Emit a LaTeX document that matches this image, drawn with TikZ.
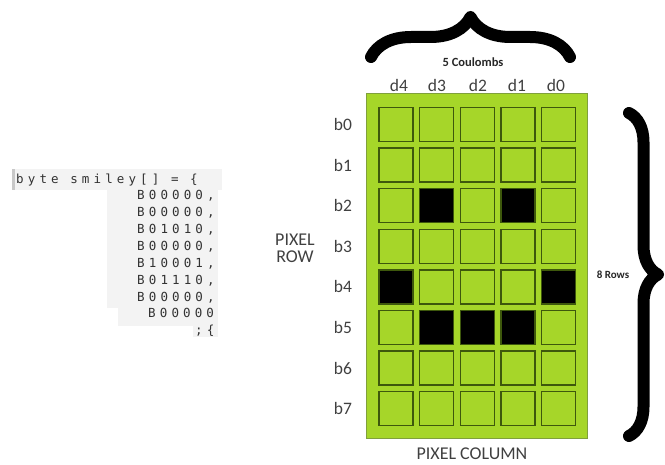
\documentclass[tikz,border=0pt]{standalone}
\usepackage{fontspec}
\setmainfont{Carlito}
\newfontfamily\codefont[LetterSpace=33]{DejaVu Sans Mono}
\usetikzlibrary{decorations.pathreplacing}
\definecolor{lcdgreen}{RGB}{166,214,41}
\definecolor{celledge}{RGB}{62,88,12}
\definecolor{boardedge}{RGB}{128,160,60}
\definecolor{labelgray}{RGB}{64,64,64}
\definecolor{codebg}{RGB}{243,243,243}
\definecolor{codebar}{RGB}{200,200,200}
\definecolor{codetext}{RGB}{50,50,50}
\begin{document}
\begin{tikzpicture}[x=1pt,y=1pt,
  pixoff/.style={draw=celledge,line width=1.4pt,fill=lcdgreen,minimum size=34pt,inner sep=0pt},
  pixon/.style={draw=celledge,line width=1.4pt,fill=black,minimum size=34pt,inner sep=0pt},
  axlabel/.style={text=labelgray,font=\fontsize{17.5}{20}\selectfont,inner sep=0pt},
  titlelabel/.style={text=labelgray,font=\fontsize{18}{20}\selectfont,inner sep=0pt,align=center},
  bracelabel/.style={text=black!85,font=\bfseries\fontsize{12.5}{14}\selectfont,inner sep=0pt},
  codeline/.style={text=codetext,font=\codefont\fontsize{12.5}{14}\selectfont,inner sep=0pt,anchor=base west},
  bigbrace/.style={decorate,decoration={brace,amplitude=#1},line width=12pt,line cap=round,line join=round}
]
\useasboundingbox (0,0) rectangle (665,464);

% code block background
\fill[codebg] (12,274) rectangle (222,295);
\fill[codebg] (107,156) rectangle (218,274);
\fill[codebg] (118,138) rectangle (218,156);
\fill[codebg] (193,127) rectangle (218,138);
\fill[codebar] (12,274) rectangle (15,295);

% code text
\node[codeline] (l0) at (16,280) {byte smiley[] = \{};
\node[codeline] (l1) at (137,264.4) {B00000,};
\node[codeline] (l2) at (137,247.4) {B00000,};
\node[codeline] (l3) at (137,230.4) {B01010,};
\node[codeline] (l4) at (137,213.4) {B00000,};
\node[codeline] (l5) at (137,196.4) {B10001,};
\node[codeline] (l6) at (137,179.4) {B01110,};
\node[codeline] (l7) at (137,162.4) {B00000,};
\node[codeline] (l8) at (148,146) {B00000};
\node[codeline] (l9) at (195,129) {;\{};

% board
\node[draw=boardedge,line width=0.8pt,fill=lcdgreen,minimum width=221pt,minimum height=345pt,inner sep=0pt] (board) at (476.5,198.5) {};

% pixels
\foreach \r/\pat in {0/{0,0,0,0,0},1/{0,0,0,0,0},2/{0,1,0,1,0},3/{0,0,0,0,0},4/{1,0,0,0,1},5/{0,1,1,1,0},6/{0,0,0,0,0},7/{0,0,0,0,0}}{
  \foreach \bit [count=\c from 0] in \pat {
    \ifnum\bit=1
      \node[pixon] (p-\r-\c) at ({396+40.6*\c},{339.5-40.6*\r}) {};
    \else
      \node[pixoff] (p-\r-\c) at ({396+40.6*\c},{339.5-40.6*\r}) {};
    \fi
  }
}

% column labels
\node[axlabel] (d4) at (399,379) {d4};
\node[axlabel] (d3) at (437,379) {d3};
\node[axlabel] (d2) at (478,379) {d2};
\node[axlabel] (d1) at (517,379) {d1};
\node[axlabel] (d0) at (556,379) {d0};

% row labels
\foreach \r in {0,...,7}{
  \node[axlabel] (b\r) at (343,{339.5-40.6*\r}) {b\r};
}

\node[titlelabel] (pixrow) at (295,216) {PIXEL\\[-3pt]ROW};
\node[titlelabel,anchor=base] (pixcol) at (472,4.5) {PIXEL COLUMN};

% braces
\draw[bigbrace=40pt] (371,407) -- (570,407);
\node[bracelabel] (cols) at (473,402) {5 Coulombs};
\draw[bigbrace=29pt] (629,351) -- (629,28);
\node[bracelabel,font=\bfseries\fontsize{11}{13}\selectfont] (rows) at (613,189) {8 Rows};
\end{tikzpicture}
\end{document}
